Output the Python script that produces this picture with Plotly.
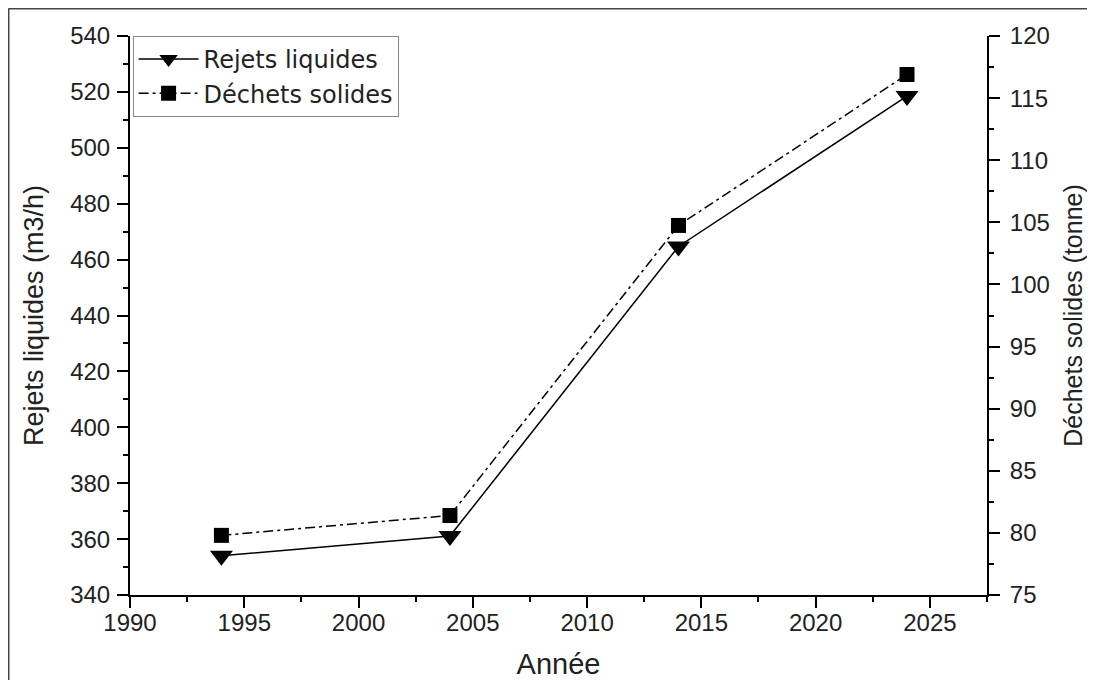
import plotly.graph_objects as go

annees = [1994, 2004, 2014, 2024]
rejets_liquides = [354.0, 361.1, 464.7, 518.5]
dechets_solides = [79.8, 81.4, 104.75, 116.9]

FONT = "Liberation Sans, Arial, sans-serif"
LEGFONT = "DejaVu Sans, Liberation Sans, sans-serif"

fig = go.Figure()
fig.add_trace(go.Scatter(
    x=annees, y=rejets_liquides, name="Rejets liquides", mode="lines+markers",
    line=dict(color="black", width=1.5, dash="solid"),
    marker=dict(symbol="triangle-down", size=20, color="black"),
    yaxis="y"))
fig.add_trace(go.Scatter(
    x=annees, y=dechets_solides, name="Déchets solides", mode="lines+markers",
    line=dict(color="black", width=1.5, dash="10px,4px,3px,4px"),
    marker=dict(symbol="square", size=15, color="black"),
    yaxis="y2"))

def axis_common(title_size=27):
    return dict(
        showline=True, linewidth=2, linecolor="black", showgrid=False, zeroline=False,
        ticks="outside", ticklen=11, tickwidth=1.5, tickcolor="black",
        tickfont=dict(family=FONT, size=24, color="#222"),
        title_font=dict(family=FONT, size=title_size, color="#222"),
        automargin=False,
    )

fig.update_layout(
    width=1079, height=672,
    margin=dict(l=122, r=100, t=28, b=85),
    paper_bgcolor="white", plot_bgcolor="white",
    showlegend=True,
    legend=dict(
        x=0.003, y=1.0, xanchor="left", yanchor="top",
        bgcolor="white", bordercolor="#888", borderwidth=1,
        font=dict(family=LEGFONT, size=24, color="#222"),
        itemwidth=60, tracegroupgap=0,
    ),
    xaxis=dict(
        range=[1990, 2027.5], dtick=5, tick0=1990,
        minor=dict(ticks="outside", ticklen=5, dtick=2.5, tick0=1990, tickcolor="black", tickwidth=1.5),
        title=dict(text="Année", standoff=20),
        ticklabelstandoff=-6,
        **axis_common(29)),
    yaxis=dict(
        range=[340, 540], dtick=20, tick0=340,
        minor=dict(ticks="outside", ticklen=5, dtick=10, tick0=340, tickcolor="black", tickwidth=1.5),
        title=dict(text="Rejets liquides (m3/h)", standoff=19),
        ticklabelstandoff=2,
        **axis_common(27)),
    yaxis2=dict(
        range=[75, 120], dtick=5, tick0=75, overlaying="y", side="right",
        minor=dict(ticks="outside", ticklen=5, dtick=2.5, tick0=75, tickcolor="black", tickwidth=1.5),
        title=dict(text="Déchets solides (tonne)", standoff=19),
        ticklabelstandoff=5,
        **axis_common(25)),
    shapes=[
        dict(type="line", xref="paper", yref="paper", x0=-0.1418, x1=1.2, y0=1.0492, y1=1.0492,
             line=dict(color="#444", width=2)),
        dict(type="line", xref="paper", yref="paper", x0=-0.1418, x1=-0.1418, y0=1.0492, y1=-0.2,
             line=dict(color="#444", width=2)),
    ],
)

fig.write_html("out.html")
